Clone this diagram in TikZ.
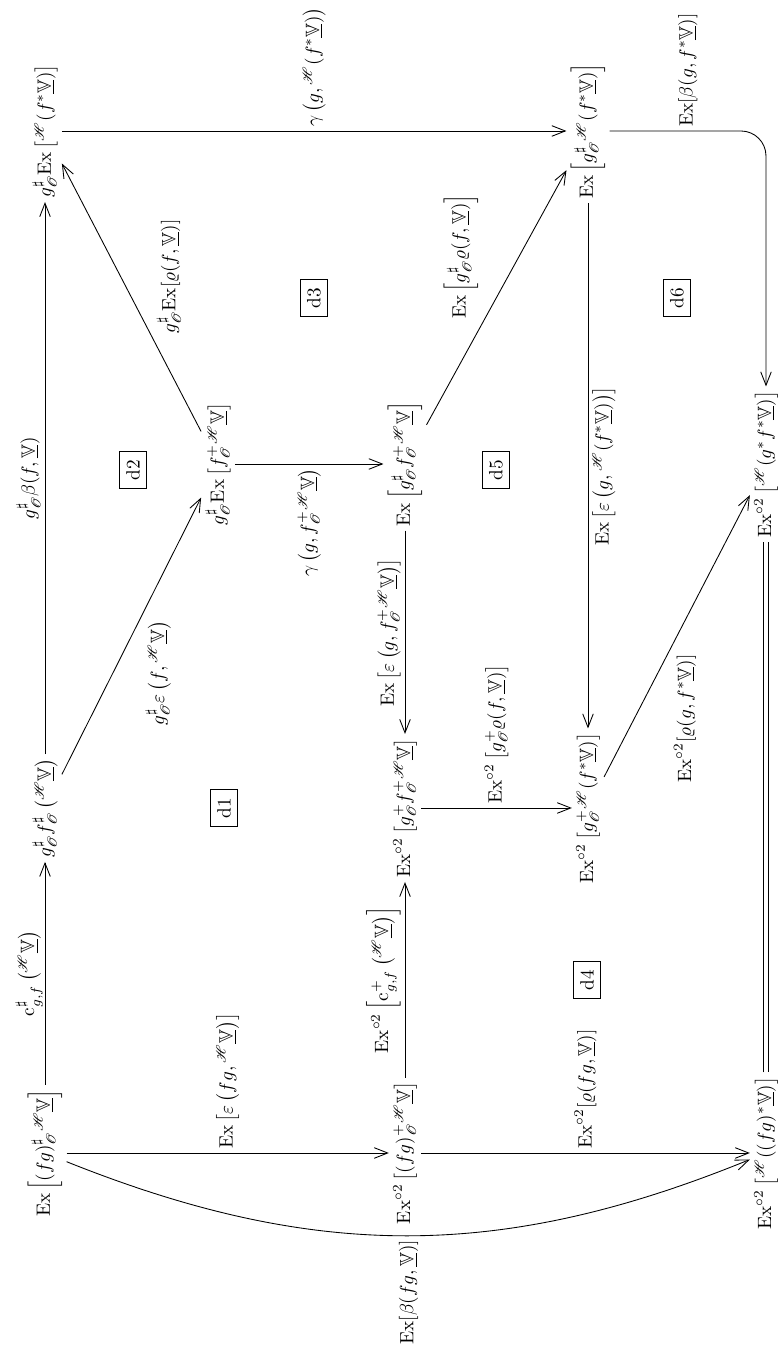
\documentclass[tikz,border=0pt]{standalone}
\usepackage{amsmath,amssymb,amsfonts}
\usepackage{mathrsfs}
\usepackage{tikz}
\usetikzlibrary{arrows.meta}
\newcommand{\uV}{\underline{\mathbb{V}}}
\newcommand{\sH}{{}^{\mathscr{H}}}
\newcommand{\sO}{\mathscr{O}}
\newcommand{\Ex}{\mathrm{Ex}}

\begin{document}
\begin{tikzpicture}[x=0.52pt, y=0.52pt, rotate=90, transform shape,
  every node/.style={inner sep=2pt},
  cell/.style={draw, line width=0.45pt, inner xsep=4.3pt, inner ysep=3.5pt},
  arrow/.style={-{Straight Barb[length=7pt, width=5.5pt]}, line width=0.45pt}
]
\useasboundingbox (0,0) rectangle (1352,-780);
\node (exfg) at (199,-45) {$\Ex\left[(fg)^{\sharp}_{\sO}\sH\uV\right]$};
\node (gfv) at (544,-45) {$g^{\sharp}_{\sO}f^{\sharp}_{\sO}\left(\sH\uV\right)$};
\node (gexhf) at (1221,-45) {$g^{\sharp}_{\sO}\Ex\left[\sH(f^{*}\uV)\right]$};
\node (gexfp) at (888,-218) {$g^{\sharp}_{\sO}\Ex\left[f^{+}_{\sO}\sH\uV\right]$};
\node (exgfp) at (888,-405) {$\Ex\left[g^{\sharp}_{\sO}f^{+}_{\sO}\sH\uV\right]$};
\node (exxfg) at (199,-405) {$\Ex^{\circ 2}\left[(fg)^{+}_{\sO}\sH\uV\right]$};
\node (exxgf) at (544,-405) {$\Ex^{\circ 2}\left[g^{+}_{\sO}f^{+}_{\sO}\sH\uV\right]$};
\node (exxgh) at (544,-588) {$\Ex^{\circ 2}\left[g^{+}_{\sO}\sH(f^{*}\uV)\right]$};
\node (exgh) at (1221,-588) {$\Ex\left[g^{\sharp}_{\sO}\sH(f^{*}\uV)\right]$};
\node (exxhgf) at (888,-766) {$\Ex^{\circ 2}\left[\sH(g^{*}f^{*}\uV)\right]$};
\node (exxhfg) at (199,-766) {$\Ex^{\circ 2}\left[\sH((fg)^{*}\uV)\right]$};

\node[cell] (d1) at (544,-224) {d1};
\node[cell] (d2) at (882,-133) {d2};
\node[cell] (d3) at (1054,-314) {d3};
\node[cell] (d4) at (372,-587) {d4};
\node[cell] (d5) at (882,-496) {d5};
\node[cell] (d6) at (1054,-677) {d6};

\draw[arrow] (exfg) -- node[above, inner sep=1pt] {$\mathrm{c}^{\sharp}_{g,f}\left(\sH\uV\right)$} (gfv);
\draw[arrow] (gfv) -- node[above] {$g^{\sharp}_{\sO}\beta(f,\uV)$} (gexhf);
\draw[arrow] (exfg) -- node[right] {$\Ex\left[\varepsilon\left(fg,\sH\uV\right)\right]$} (exxfg);
\draw[arrow] (exfg) to[bend right=22] node[left] {$\Ex[\beta(fg,\uV)]$} (exxhfg);
\draw[arrow] (gfv) -- node[below left, pos=0.57] {$g^{\sharp}_{\sO}\varepsilon\left(f,\sH\uV\right)$} (gexfp);
\draw[arrow] (gexfp) -- node[below right, pos=0.35] {$g^{\sharp}_{\sO}\Ex[\varrho(f,\uV)]$} (gexhf);
\draw[arrow] (gexfp) -- node[left] {$\gamma\left(g,f^{+}_{\sO}\sH\uV\right)$} (exgfp);
\draw[arrow] (exgfp) -- node[above] {$\Ex\left[\varepsilon\left(g,f^{+}_{\sO}\sH\uV\right)\right]$} (exxgf);
\draw[arrow] (exxfg) -- node[above] {$\Ex^{\circ 2}\left[\mathrm{c}^{+}_{g,f}\left(\sH\uV\right)\right]$} (exxgf);
\draw[arrow] (exxfg) -- node[right] {$\Ex^{\circ 2}[\varrho(fg,\uV)]$} (exxhfg);
\draw[arrow] (exxgf) -- node[right] {$\Ex^{\circ 2}\left[g^{+}_{\sO}\varrho(f,\uV)\right]$} (exxgh);
\draw[arrow] (exgfp) -- node[above right, pos=0.4] {$\Ex\left[g^{\sharp}_{\sO}\varrho(f,\uV)\right]$} (exgh);
\draw[arrow] (exgh) -- node[below] {$\Ex\left[\varepsilon\left(g,\sH(f^{*}\uV)\right)\right]$} (exxgh);
\draw[arrow] (gexhf) -- node[right] {$\gamma\left(g,\sH(f^{*}\uV)\right)$} (exgh);
\draw[arrow, rounded corners=13pt] (exgh) |- node[right, pos=0.25] {$\Ex[\beta(g,f^{*}\uV)]$} (exxhgf);
\draw[arrow] (exxgh) -- node[below left, pos=0.45] {$\Ex^{\circ 2}[\varrho(g,f^{*}\uV)]$} (exxhgf);
\draw[double, double distance=2pt, line width=0.45pt] (exxhfg) -- (exxhgf);
\end{tikzpicture}
\end{document}
